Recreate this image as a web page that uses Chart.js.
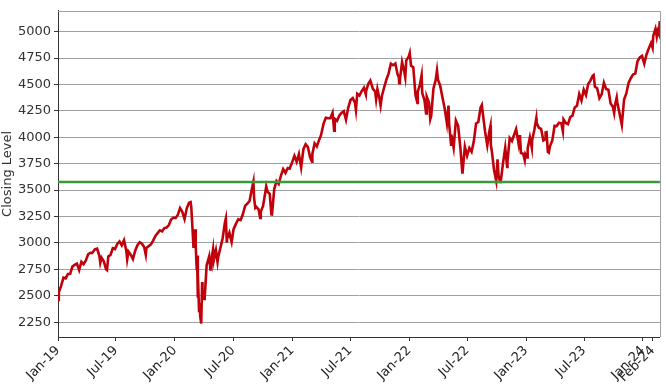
<!DOCTYPE html>
<html>
<head>
<meta charset="utf-8">
<script src="https://cdn.jsdelivr.net/npm/chart.js@4.4.1/dist/chart.umd.min.js"></script>
<style>
  body { margin: 0; background: #fff; }
</style>
</head>
<body>
<canvas id="mainChart" width="666" height="387"></canvas>
<script>
// closing levels, [month-day, close] per year
const close2019 = [
  ['01-02',2510],['01-03',2448],['01-04',2532],['01-11',2596],['01-18',2671],['01-25',2665],
  ['02-01',2707],['02-08',2708],['02-15',2776],['02-22',2793],['03-01',2804],['03-08',2743],
  ['03-15',2822],['03-22',2800],['03-29',2834],['04-05',2893],['04-12',2907],['04-18',2905],
  ['04-26',2940],['05-03',2946],['05-10',2881],['05-13',2812],['05-17',2860],['05-24',2826],
  ['05-31',2752],['06-03',2744],['06-07',2873],['06-14',2887],['06-21',2950],['06-28',2942],
  ['07-05',2990],['07-12',3014],['07-19',2977],['07-26',3026],['08-02',2932],['08-05',2844],
  ['08-09',2919],['08-16',2889],['08-23',2847],['08-30',2926],['09-06',2979],['09-13',3007],
  ['09-20',2992],['09-27',2962],['10-02',2888],['10-04',2952],['10-11',2970],['10-18',2986],
  ['10-25',3023],['11-01',3067],['11-08',3093],['11-15',3120],['11-22',3110],['11-29',3141],
  ['12-06',3146],['12-13',3169],['12-20',3221],['12-27',3240]
];
const close2020 = [
  ['01-03',3235],['01-10',3265],['01-17',3330],['01-24',3295],['01-31',3226],['02-07',3328],
  ['02-14',3380],['02-19',3386],['02-21',3338],['02-25',3128],['02-28',2954],['03-04',3130],
  ['03-06',2972],['03-09',2747],['03-10',2882],['03-12',2481],['03-13',2711],['03-16',2386],
  ['03-18',2398],['03-20',2305],['03-23',2237],['03-26',2630],['03-27',2541],['04-01',2471],
  ['04-03',2489],['04-09',2790],['04-17',2875],['04-21',2737],['04-24',2837],['04-29',2940],
  ['05-01',2831],['05-08',2930],['05-13',2820],['05-15',2864],['05-22',2955],['05-29',3044],
  ['06-05',3194],['06-08',3232],['06-11',3002],['06-12',3041],['06-19',3098],['06-26',3009],
  ['07-02',3130],['07-10',3185],['07-17',3225],['07-24',3216],['07-31',3271],['08-07',3351],
  ['08-14',3373],['08-21',3397],['08-28',3508],['09-02',3580],['09-04',3427],['09-08',3332],
  ['09-11',3341],['09-18',3319],['09-23',3237],['09-25',3298],['10-02',3348],['10-09',3477],
  ['10-12',3535],['10-16',3484],['10-23',3465],['10-28',3271],['10-30',3270],['11-06',3510],
  ['11-13',3585],['11-20',3558],['11-27',3638],['12-04',3699],['12-11',3663],['12-18',3709],
  ['12-24',3703],['12-31',3756]
];
const close2021 = [
  ['01-08',3825],['01-15',3768],['01-22',3841],['01-29',3714],['02-05',3887],['02-12',3934],
  ['02-19',3907],['02-26',3811],['03-04',3768],['03-05',3842],['03-12',3943],['03-19',3913],
  ['03-26',3975],['04-01',4020],['04-09',4129],['04-16',4185],['04-23',4180],['04-30',4181],
  ['05-07',4233],['05-12',4063],['05-14',4174],['05-21',4156],['05-28',4204],['06-04',4230],
  ['06-11',4247],['06-18',4166],['06-25',4281],['07-02',4352],['07-09',4370],['07-16',4327],
  ['07-19',4259],['07-23',4412],['07-30',4395],['08-06',4437],['08-13',4468],['08-19',4406],
  ['08-20',4442],['08-27',4509],['09-02',4537],['09-10',4459],['09-17',4433],['09-20',4358],
  ['09-24',4455],['10-01',4357],['10-04',4300],['10-08',4391],['10-15',4471],['10-22',4545],
  ['10-29',4605],['11-05',4697],['11-12',4682],['11-19',4698],['11-26',4595],['11-30',4567],
  ['12-01',4513],['12-03',4538],['12-10',4712],['12-17',4620],['12-20',4568],['12-23',4726],
  ['12-31',4766]
];
const close2022 = [
  ['01-03',4797],['01-07',4677],['01-14',4663],['01-21',4398],['01-27',4326],['01-28',4432],
  ['02-04',4501],['02-09',4587],['02-11',4419],['02-18',4349],['02-23',4225],['02-25',4385],
  ['03-04',4329],['03-08',4171],['03-11',4204],['03-18',4463],['03-25',4543],['03-29',4632],
  ['04-01',4546],['04-08',4488],['04-14',4392],['04-22',4272],['04-29',4132],['05-04',4300],
  ['05-06',4123],['05-12',3930],['05-13',4024],['05-20',3901],['05-27',4158],['06-03',4109],
  ['06-10',3901],['06-16',3667],['06-17',3675],['06-24',3912],['07-01',3825],['07-08',3899],
  ['07-15',3863],['07-22',3962],['07-29',4130],['08-05',4145],['08-12',4280],['08-16',4305],
  ['08-19',4228],['08-26',4058],['09-02',3924],['09-09',4067],['09-12',4110],['09-13',3932],
  ['09-16',3873],['09-23',3693],['09-30',3586],['10-04',3791],['10-07',3640],['10-12',3577],
  ['10-14',3583],['10-21',3753],['10-28',3901],['11-03',3720],['11-04',3771],['11-11',3993],
  ['11-18',3965],['11-25',4026],['12-01',4077],['12-09',3934],['12-13',4020],['12-16',3852],
  ['12-23',3845],['12-28',3783],['12-30',3840]
];
const close2023 = [
  ['01-05',3808],['01-06',3895],['01-13',3999],['01-19',3899],['01-20',3973],['01-27',4071],
  ['02-02',4180],['02-03',4136],['02-10',4090],['02-17',4079],['02-24',3970],['03-02',3982],
  ['03-03',4046],['03-06',4048],['03-10',3862],['03-13',3855],['03-17',3917],['03-24',3971],
  ['03-31',4109],['04-06',4105],['04-14',4138],['04-21',4133],['04-26',4056],['04-28',4169],
  ['05-05',4136],['05-12',4124],['05-19',4192],['05-26',4205],['06-02',4282],['06-09',4299],
  ['06-16',4410],['06-23',4348],['06-30',4450],['07-07',4399],['07-14',4505],['07-21',4536],
  ['07-28',4582],['07-31',4589],['08-04',4478],['08-11',4464],['08-18',4370],['08-25',4406],
  ['09-01',4516],['09-08',4457],['09-15',4450],['09-22',4320],['09-29',4288],['10-03',4229],
  ['10-06',4308],['10-11',4377],['10-13',4327],['10-20',4224],['10-27',4117],['11-03',4358],
  ['11-10',4415],['11-17',4514],['11-24',4559],['12-01',4595],['12-08',4604],['12-15',4719],
  ['12-22',4755],['12-29',4770]
];
const close2024 = [
  ['01-05',4697],['01-12',4784],['01-19',4840],['01-26',4891],['01-31',4846],['02-02',4959],
  ['02-09',5027],['02-13',4953],['02-16',5006],['02-20',4976],['02-22',5087],['02-23',5088]
];

// green reference level
const refLevel = 3577;

// axis ticks
const tickMonths = ['2019-01','2019-07','2020-01','2020-07','2021-01','2021-07',
                    '2022-01','2022-07','2023-01','2023-07','2024-01','2024-02'];
const tickLabels = ['Jan-19','Jul-19','Jan-20','Jul-20','Jan-21','Jul-21',
                    'Jan-22','Jul-22','Jan-23','Jul-23','Jan-24','Feb-24'];
const yTicks = [2250, 2500, 2750, 3000, 3250, 3500, 3750, 4000, 4250, 4500, 4750, 5000];

// days since 2019-01-01
function dayNum(s) {
  var p = s.split('-');
  return (Date.UTC(+p[0], +p[1] - 1, +(p[2] || 1)) - Date.UTC(2019, 0, 1)) / 86400000;
}

var years = { 2019: close2019, 2020: close2020, 2021: close2021, 2022: close2022, 2023: close2023, 2024: close2024 };
var points = [];
Object.keys(years).forEach(function (y) {
  years[y].forEach(function (d) {
    points.push({ x: dayNum(y + '-' + d[0]), y: d[1] });
  });
});
var lastDay = points[points.length - 1].x;

// light frame on top and right of the plot
var framePlugin = {
  id: 'frame',
  beforeDatasetsDraw: function (chart) {
    var a = chart.chartArea, c = chart.ctx;
    c.save();
    c.strokeStyle = '#a0a0a0';
    c.lineWidth = 1;
    c.beginPath();
    c.moveTo(a.left, Math.round(a.top) + 0.5);
    c.lineTo(Math.round(a.right) + 0.5, Math.round(a.top) + 0.5);
    c.lineTo(Math.round(a.right) + 0.5, a.bottom);
    c.stroke();
    c.restore();
  }
};

var font = 'DejaVu Sans';
var ctx = document.getElementById('mainChart');
new Chart(ctx, {
  type: 'line',
  data: {
    datasets: [
      {
        label: 'level',
        data: [{ x: 0, y: refLevel }, { x: lastDay, y: refLevel }],
        borderColor: '#3a9a3a',
        borderWidth: 2.5,
        pointRadius: 0,
        order: 0
      },
      {
        label: 'close',
        data: points,
        borderColor: '#c0000a',
        borderWidth: 2.6,
        pointRadius: 0,
        tension: 0,
        order: 1
      }
    ]
  },
  options: {
    responsive: false,
    animation: false,
    devicePixelRatio: 1,
    layout: { padding: { top: 7, right: 5, left: 0, bottom: 0 } },
    plugins: { legend: { display: false }, tooltip: { enabled: false } },
    scales: {
      x: {
        type: 'linear',
        min: 0,
        max: lastDay,
        afterBuildTicks: function (scale) {
          scale.ticks = tickMonths.map(function (m) { return { value: dayNum(m) }; });
        },
        afterFit: function (scale) { scale.height = 50; },
        ticks: {
          autoSkip: false,
          maxRotation: 45,
          minRotation: 45,
          padding: 2,
          color: '#222',
          font: { family: font, size: 13 },
          callback: function (v, i) { return tickLabels[i]; }
        },
        grid: { drawOnChartArea: false, tickLength: 4, color: '#333' },
        border: { color: '#333', width: 1 }
      },
      y: {
        min: 2110,
        max: 5197,
        afterBuildTicks: function (scale) {
          scale.ticks = yTicks.map(function (v) { return { value: v }; });
        },
        afterFit: function (scale) { scale.width = 58; },
        ticks: {
          padding: 3,
          color: '#333',
          font: { family: font, size: 13 },
          callback: function (v) { return String(v); }
        },
        grid: { color: '#a0a0a0', tickColor: '#333', tickLength: 4 },
        border: { color: '#333', width: 1 },
        title: {
          display: true,
          text: 'Closing Level',
          color: '#333',
          padding: 0,
          font: { family: font, size: 13 }
        }
      }
    }
  },
  plugins: [framePlugin]
});
</script>
</body>
</html>
